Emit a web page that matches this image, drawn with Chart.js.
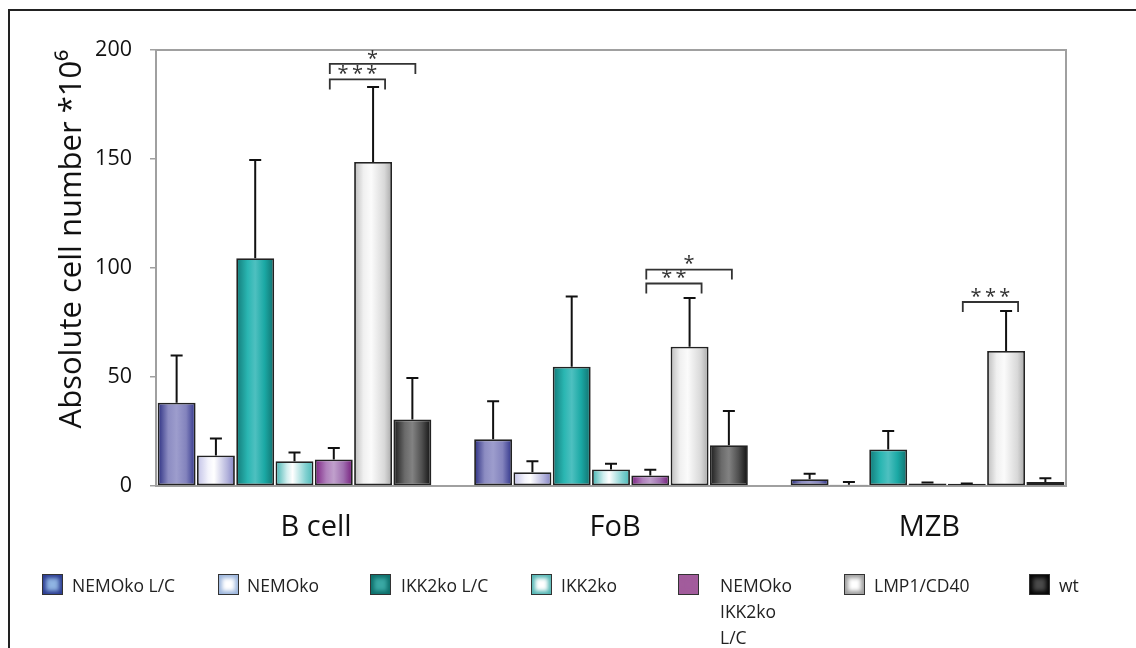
<!DOCTYPE html>
<html>
<head>
<meta charset="utf-8">
<script src="https://cdn.jsdelivr.net/npm/chart.js@4.4.0/dist/chart.umd.min.js"></script>
<style>
  html, body { margin: 0; padding: 0; background: #fff; width: 1136px; height: 648px; overflow: hidden; }
  body { position: relative; font-family: "Open Sans", sans-serif; }
  #frame { position: absolute; left: 8px; top: 9px; width: 1200px; height: 700px;
           border-left: 2px solid #222; border-top: 2px solid #222; box-sizing: border-box; }
  #chart { position: absolute; left: 0; top: 0; }
  .lg-box { position: absolute; top: 574px; width: 21px; height: 21px; box-sizing: border-box;
            border: 1px solid #333; }
  .lg-text { position: absolute; top: 572px; font-size: 17.5px; line-height: 26px; color: #222; }
</style>
</head>
<body>
<div id="frame"></div>
<canvas id="chart" width="1136" height="648"></canvas>
<div id="legend"></div>
<script>
// ---- data ----
const categories = ['B cell', 'FoB', 'MZB'];
const seriesNames = ['NEMOko L/C', 'NEMOko', 'IKK2ko L/C', 'IKK2ko', 'NEMOko IKK2ko L/C', 'LMP1/CD40', 'wt'];

// mean absolute cell numbers (*10^6) per population
const nemoLC      = [38.2, 21.4, 3.1];
const nemo        = [14.0, 6.3, 0.6];
const ikk2LC      = [104.5, 54.7, 16.8];
const ikk2        = [11.4, 7.6, 1.1];
const nemoIkk2LC  = [12.2, 4.8, 1.0];
const lmp1cd40    = [148.6, 63.9, 61.9];
const wt          = [30.5, 18.7, 1.8];

// standard deviations (upper error bars)
const nemoLCSd     = [21.7, 17.5, 2.5];
const nemoSd       = [7.8, 5.1, 1.2];
const ikk2LCSd     = [45.0, 32.2, 8.4];
const ikk2Sd       = [4.0, 2.6, 0.5];
const nemoIkk2LCSd = [5.2, 2.6, 0.2];
const lmp1cd40Sd   = [34.4, 22.3, 18.4];
const wtSd         = [19.0, 15.7, 1.8];

const yTicks = [0, 50, 100, 150, 200];

// significance brackets
const sigText  = ['***', '*', '**', '*', '***'];
const sigGroup = [0, 0, 1, 1, 2];
const sigFrom  = [4, 4, 4, 4, 4];
const sigTo    = [5, 6, 5, 6, 5];
const sigLevel = [186.5, 193.6, 92.9, 99.3, 84.4];

const means = [nemoLC, nemo, ikk2LC, ikk2, nemoIkk2LC, lmp1cd40, wt];
const sds   = [nemoLCSd, nemoSd, ikk2LCSd, ikk2Sd, nemoIkk2LCSd, lmp1cd40Sd, wtSd];

// ---- styling ----
const FONT = '"Open Sans", sans-serif';
const barStops = [
  [[0, '#2a2d80'], [0.28, '#8c8cc2'], [0.5, '#9d9dcd'], [0.75, '#8383bd'], [1, '#2f338a']],
  [[0, '#c0c0e6'], [0.3, '#f4f4fc'], [0.45, '#ffffff'], [0.8, '#b4b4dc'], [1, '#8282c4']],
  [[0, '#127a78'], [0.3, '#2ab6b2'], [0.5, '#4ec0c0'], [0.75, '#1aa8a4'], [1, '#12706e']],
  [[0, '#40b2b0'], [0.3, '#d0eeee'], [0.45, '#ffffff'], [0.8, '#80d0d0'], [1, '#4ab8b6']],
  [[0, '#7a2080'], [0.3, '#b080bc'], [0.5, '#c0a0cc'], [0.75, '#a070b0'], [1, '#761c7c']],
  [[0, '#bcbcbc'], [0.25, '#f0f0f0'], [0.45, '#fbfbfb'], [0.8, '#d8d8d8'], [1, '#a8a8a8']],
  [[0, '#1a1a1a'], [0.3, '#6a6a6a'], [0.5, '#828282'], [0.75, '#505050'], [1, '#101010']]
];
const legendFill = [
  ['#8fb4e2', '#2a3a90'], ['#ffffff', '#9ab4dc'], ['#3aa8a4', '#0d6e6a'], ['#ffffff', '#50b4b2'],
  ['#a25c9c', '#a25c9c'], ['#ffffff', '#9a9a9a'], ['#4a4a4a', '#050505']
];
const legendBoxX  = [42, 218, 370, 531, 678, 844, 1029];
const legendTextX = [72, 247, 401, 561, 720, 874, 1059];

// horizontal extent of the value axis, in category units, and label placement nudges
const xMin = -0.4376, xMax = 2.4376;
const labelShift = [0.068, 0.013, 0.006];

// ---- plugins ----
const gradientBars = {
  id: 'gradientBars',
  beforeDatasetsDraw(chart) {
    const ctx = chart.ctx;
    chart.data.datasets.forEach((ds, di) => {
      chart.getDatasetMeta(di).data.forEach(bar => {
        const half = bar.width / 2;
        const g = ctx.createLinearGradient(bar.x - half, 0, bar.x + half, 0);
        barStops[di].forEach(s => g.addColorStop(s[0], s[1]));
        bar.options.backgroundColor = g;
      });
    });
  }
};

const plotFrame = {
  id: 'plotFrame',
  beforeDatasetsDraw(chart) {
    const {ctx, chartArea: a} = chart;
    ctx.save();
    ctx.strokeStyle = '#a0a0a0';
    ctx.lineWidth = 2;
    ctx.beginPath();
    ctx.moveTo(a.left, a.top);
    ctx.lineTo(a.right, a.top);
    ctx.lineTo(a.right, a.bottom);
    ctx.stroke();
    ctx.restore();
  }
};

const errorsAndBrackets = {
  id: 'errorsAndBrackets',
  afterDatasetsDraw(chart) {
    const {ctx} = chart;
    const y = chart.scales.y;
    ctx.save();
    // error bars
    ctx.strokeStyle = '#111';
    ctx.lineWidth = 2;
    chart.data.datasets.forEach((ds, di) => {
      chart.getDatasetMeta(di).data.forEach((bar, i) => {
        const top = y.getPixelForValue(means[di][i] + sds[di][i]);
        ctx.beginPath();
        ctx.moveTo(bar.x, bar.y);
        ctx.lineTo(bar.x, top);
        ctx.moveTo(bar.x - 6, top);
        ctx.lineTo(bar.x + 6, top);
        ctx.stroke();
      });
    });
    // significance brackets
    ctx.strokeStyle = '#333';
    ctx.fillStyle = '#333';
    ctx.lineWidth = 1.8;
    ctx.font = '20px ' + FONT;
    ctx.textAlign = 'center';
    ctx.textBaseline = 'middle';
    sigText.forEach((t, k) => {
      const left = chart.getDatasetMeta(sigFrom[k]).data[sigGroup[k]].x - 4;
      const right = chart.getDatasetMeta(sigTo[k]).data[sigGroup[k]].x + (sigTo[k] === 5 ? 12 : 3);
      const py = y.getPixelForValue(sigLevel[k]);
      ctx.beginPath();
      ctx.moveTo(left, py + 10);
      ctx.lineTo(left, py);
      ctx.lineTo(right, py);
      ctx.lineTo(right, py + 10);
      ctx.stroke();
      const spaced = t.split('').join('\u2009');
      ctx.fillText(spaced, (left + right) / 2, py - 5);
    });
    ctx.restore();
  }
};

// ---- chart ----
const datasets = seriesNames.map((name, di) => ({
  label: name,
  data: means[di].map((v, i) => ({x: i, y: v})),
  backgroundColor: () => barStops[di][2][1],
  borderColor: '#222',
  borderWidth: 1.8,
  borderSkipped: false,
  categoryPercentage: 0.869,
  barPercentage: 0.965
}));

new Chart(document.getElementById('chart'), {
  type: 'bar',
  data: { datasets },
  plugins: [gradientBars, plotFrame, errorsAndBrackets],
  options: {
    responsive: false,
    animation: false,
    layout: { padding: { left: 0, right: 70, top: 50, bottom: 0 } },
    plugins: { legend: { display: false }, tooltip: { enabled: false } },
    scales: {
      x: {
        type: 'linear',
        display: false,
        offset: false,
        min: xMin,
        max: xMax,
        afterBuildTicks: axis => { axis.ticks = categories.map((c, i) => ({ value: i })); }
      },
      xLabels: {
        type: 'linear',
        position: 'bottom',
        offset: false,
        min: xMin,
        max: xMax,
        afterBuildTicks: axis => { axis.ticks = categories.map((c, i) => ({ value: i + labelShift[i] })); },
        afterFit: axis => { axis.height = 162; },
        grid: { display: false, drawTicks: false },
        border: { display: true, color: '#a0a0a0', width: 2 },
        ticks: {
          callback: (v, i) => categories[i],
          autoSkip: false,
          maxRotation: 0,
          color: '#111',
          padding: 24,
          font: { family: FONT, size: 29 }
        }
      },
      y: {
        min: 0,
        max: 200,
        afterBuildTicks: axis => { axis.ticks = yTicks.map(v => ({ value: v })); },
        afterFit: axis => { axis.width = 156; },
        grid: { drawOnChartArea: false, drawTicks: true, tickLength: 6, color: '#a0a0a0', lineWidth: 1.5 },
        border: { display: true, color: '#a0a0a0', width: 2 },
        ticks: { color: '#111', padding: 18, font: { family: FONT, size: 21.5 } },
        title: {
          display: true,
          text: 'Absolute cell number *10⁶',
          align: 'end',
          color: '#111',
          font: { family: FONT, size: 31 },
          padding: { top: 54, bottom: 0 }
        }
      }
    }
  }
});

// ---- legend ----
const legend = document.getElementById('legend');
seriesNames.forEach((name, di) => {
  const box = document.createElement('div');
  box.className = 'lg-box';
  box.style.left = legendBoxX[di] + 'px';
  box.style.background = legendFill[di][0];
  box.style.boxShadow = 'inset 0 0 4px 3px ' + legendFill[di][1];
  legend.appendChild(box);
  const txt = document.createElement('div');
  txt.className = 'lg-text';
  txt.style.left = legendTextX[di] + 'px';
  if (name.split(' ').length > 2) txt.style.width = '70px';
  else txt.style.whiteSpace = 'nowrap';
  txt.textContent = name;
  legend.appendChild(txt);
});
</script>
</body>
</html>
